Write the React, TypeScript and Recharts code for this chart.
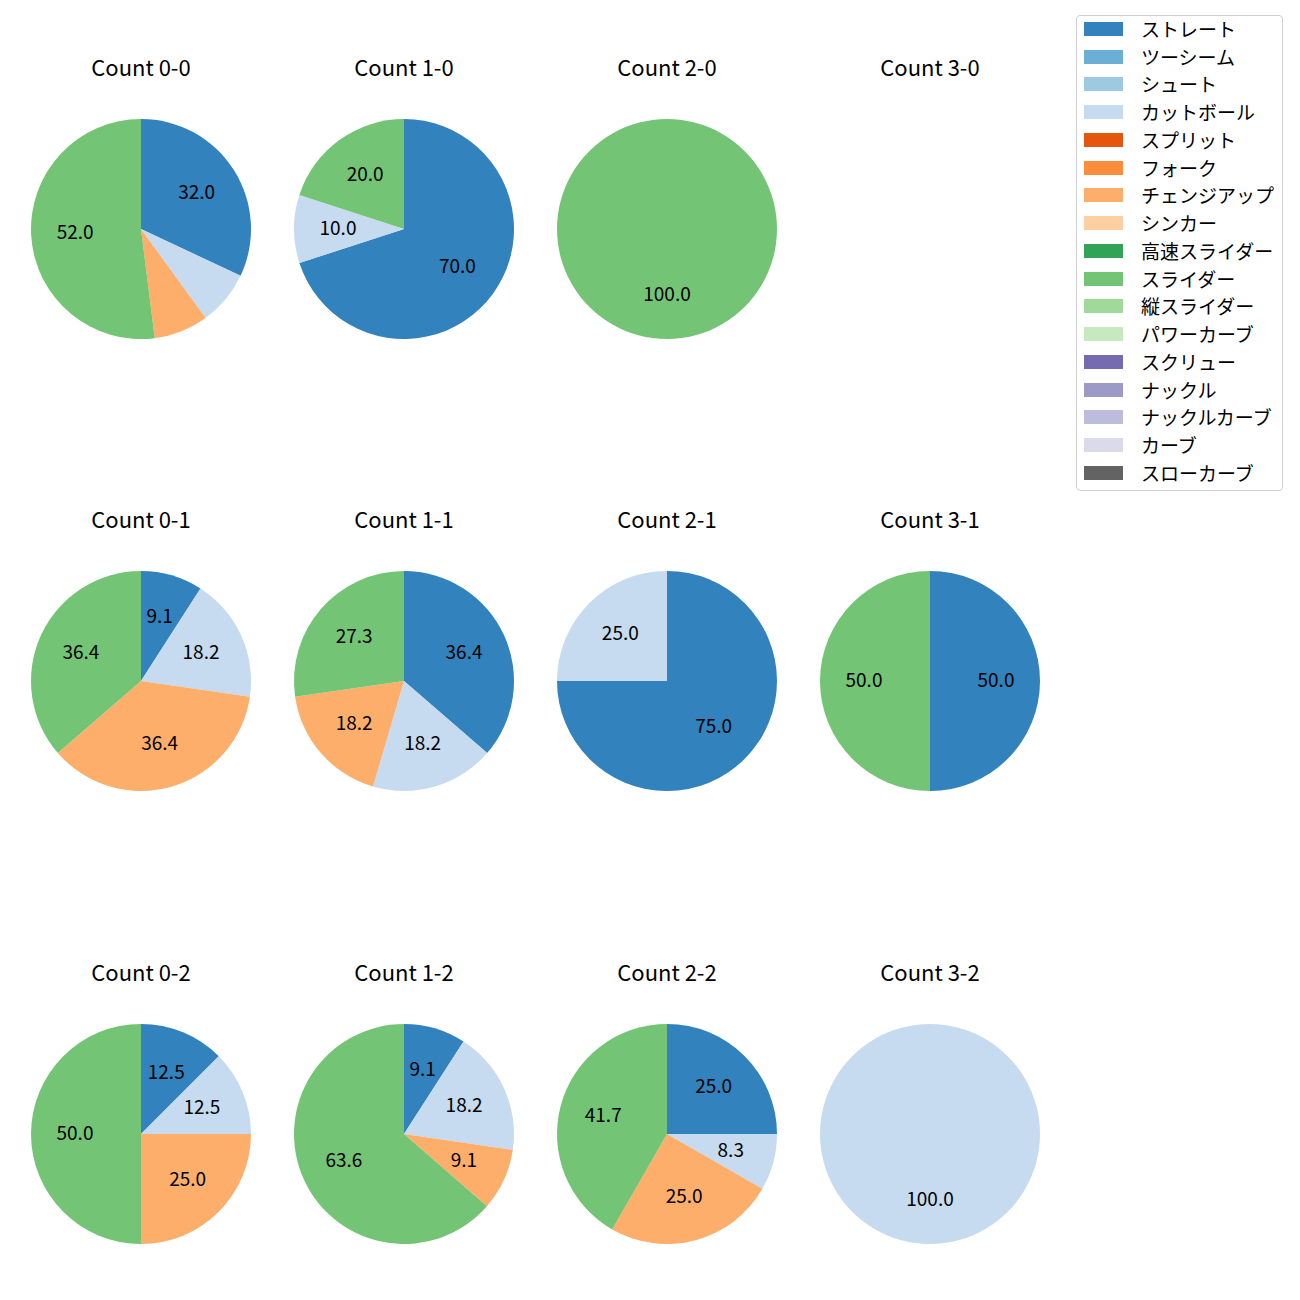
import React from "react";
import { PieChart, Pie, Cell } from "recharts";

const pitchTypes = [
    "ストレート", "ツーシーム", "シュート", "カットボール", "スプリット", "フォーク",
    "チェンジアップ", "シンカー", "高速スライダー", "スライダー", "縦スライダー",
    "パワーカーブ", "スクリュー", "ナックル", "ナックルカーブ", "カーブ", "スローカーブ",
];
const pitchColors = [
    "#3182bd", "#6baed6", "#9ecae1", "#c6dbef", "#e6550d", "#fd8d3c",
    "#fdae6b", "#fdd0a2", "#31a354", "#74c476", "#a1d99b", "#c7e9c0",
    "#756bb1", "#9e9ac8", "#bcbddc", "#dadaeb", "#636363",
];

// ball-strike counts, row by row
const counts = ["0-0", "1-0", "2-0", "3-0", "0-1", "1-1", "2-1", "3-1", "0-2", "1-2", "2-2", "3-2"];

// share (%) of each pitch type per count
const straight = [32, 70, 0, 0, 9.1, 36.4, 75, 50, 12.5, 9.1, 25, 0];
const cutBall = [8, 10, 0, 0, 18.2, 18.2, 25, 0, 12.5, 18.2, 8.3, 100];
const changeUp = [8, 0, 0, 0, 36.4, 18.2, 0, 0, 25, 9.1, 25, 0];
const slider = [52, 20, 100, 0, 36.4, 27.3, 0, 50, 50, 63.6, 41.7, 0];

const FONT = "'Noto Sans CJK JP', 'Noto Sans', sans-serif";
const colX = [141, 404, 667, 930];
const rowY = [229, 681, 1134];
const R = 110;

const seriesFor = (i: number) =>
    [
        { name: "ストレート", value: straight[i] },
        { name: "カットボール", value: cutBall[i] },
        { name: "チェンジアップ", value: changeUp[i] },
        { name: "スライダー", value: slider[i] },
    ].filter((d) => d.value > 0);

const renderLabel = (p: any) => {
    if (p.value <= 8) return null;
    const rad = (Math.PI / 180) * p.midAngle;
    const x = p.cx + 0.6 * p.outerRadius * Math.cos(rad);
    const y = p.cy - 0.6 * p.outerRadius * Math.sin(rad) - 3;
    return (
        <text x={x} y={y} textAnchor="middle" dominantBaseline="central"
            fontSize={19} fontFamily={FONT} fill="#000">
            {Number(p.value).toFixed(1)}
        </text>
    );
};

const App: React.FC = () => {
    return (
        <div style={{ position: "absolute", left: 0, top: 0, width: 1300, height: 1300, background: "#fff" }}>
            <PieChart width={1300} height={1300} margin={{ top: 0, right: 0, bottom: 0, left: 0 }}>
                {counts.map((c, i) => {
                    const data = seriesFor(i);
                    if (data.length === 0) return null;
                    return (
                        <Pie
                            key={c}
                            data={data}
                            dataKey="value"
                            nameKey="name"
                            cx={colX[i % 4]}
                            cy={rowY[Math.floor(i / 4)]}
                            outerRadius={R}
                            startAngle={90}
                            endAngle={-270}
                            stroke="none"
                            label={renderLabel}
                            labelLine={false}
                            isAnimationActive={false}
                        >
                            {data.map((d) => (
                                <Cell key={d.name} fill={pitchColors[pitchTypes.indexOf(d.name)]} />
                            ))}
                        </Pie>
                    );
                })}
            </PieChart>

            {counts.map((c, i) => (
                <div
                    key={c}
                    style={{
                        position: "absolute",
                        left: colX[i % 4] - 100,
                        width: 200,
                        top: rowY[Math.floor(i / 4)] - 160 - 17,
                        height: 28,
                        lineHeight: "28px",
                        textAlign: "center",
                        fontFamily: FONT,
                        fontSize: 22,
                        color: "#000",
                    }}
                >
                    Count {c}
                </div>
            ))}

            <div
                style={{
                    position: "absolute",
                    left: 1076,
                    top: 15,
                    width: 207,
                    height: 476,
                    border: "1px solid #d0d0d0",
                    borderRadius: 4,
                    boxSizing: "border-box",
                    paddingTop: 0,
                    fontFamily: FONT,
                    fontSize: 19,
                }}
            >
                {pitchTypes.map((t, k) => (
                    <div key={t} style={{ display: "flex", alignItems: "center", height: 27.75, marginTop: k === 0 ? -1 : 0 }}>
                        <div style={{ width: 39, height: 14, marginLeft: 7, background: pitchColors[k] }} />
                        <span style={{ marginLeft: 18, lineHeight: "20px" }}>{t}</span>
                    </div>
                ))}
            </div>
        </div>
    );
};

export default App;
